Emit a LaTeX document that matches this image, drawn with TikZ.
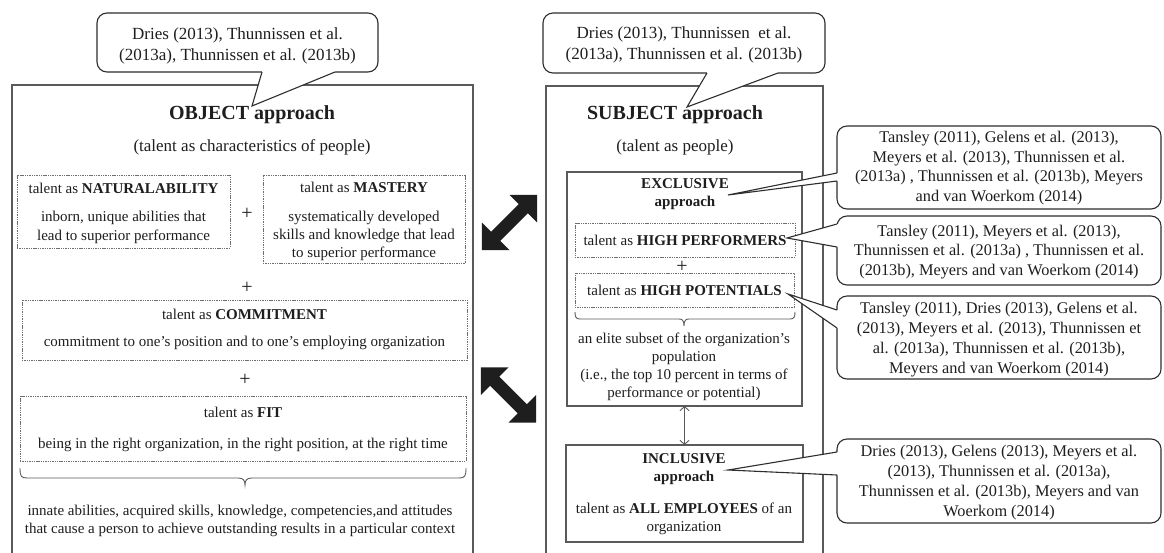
\documentclass[tikz,border=0pt]{standalone}
\usepackage{fontspec}
\setmainfont{Liberation Serif}
\usetikzlibrary{calc,arrows.meta}
\definecolor{ink}{HTML}{1E1E1E}
\definecolor{frame}{HTML}{5A5A5A}
\definecolor{dashc}{HTML}{6E6E6E}
\definecolor{cline}{HTML}{2E2E2E}
\newcommand{\ftitle}{\fontsize{20}{24}\selectfont\bfseries}
\newcommand{\fsub}{\fontsize{17}{20}\selectfont}
\newcommand{\fbx}{\fontsize{15}{18}\selectfont}
\newcommand{\fbxb}{\fontsize{15}{19}\selectfont}
\newcommand{\fcallL}{\fontsize{17}{21}\selectfont}
\newcommand{\fcallR}{\fontsize{16.3}{19.8}\selectfont}
\newcommand{\fplus}{\fontsize{20}{20}\selectfont}
\newcommand{\callptr}[4]{%
  \fill[white] ($(#1)+(#4)$) -- (#1) -- (#2) -- (#3) -- ($(#3)+(#4)$) -- cycle;
  \draw[callline] (#1) -- (#2) -- (#3);}
\begin{document}
\begin{tikzpicture}[x=1pt,y=-1pt,
  every node/.style={inner sep=0pt, outer sep=0pt, text=ink, align=center},
  mainbox/.style={draw=frame, line width=1.1pt},
  sbox/.style={draw=frame, line width=1.1pt},
  dbox/.style={draw=dashc, line width=0.8pt, dash pattern=on 1.4pt off 0.9pt},
  callout/.style={draw=cline, line width=1.1pt, rounded corners=10pt, fill=white},
  callline/.style={draw=cline, line width=1.1pt, line join=miter},
  braceline/.style={draw=frame, line width=0.9pt},
  bigarrow/.style={fill=ink},
]
\useasboundingbox (0,0) rectangle (1164,552);
\fill[white] (0,0) rectangle (1164,552);

% ---------- main boxes
\node[mainbox, minimum width=461, minimum height=480] (leftbox) at (242.5,325) {};
\node[mainbox, minimum width=277, minimum height=479] (rightbox) at (684.5,325.5) {};

% ---------- OBJECT side
\node[font=\ftitle] (objT) at (252,115) {OBJECT approach};
\node[font=\fsub] (objS) at (252,147) {(talent as characteristics of people)};

\node[dbox, minimum width=213, minimum height=73] (natbox) at (123.5,211.5) {};
\node[font=\fbx] (natT) at (123.5,188) {talent as \textbf{NATURALABILITY}};
\node[font=\fbxb] (natB) at (123.5,227.5) {inborn, unique abilities that\\lead to superior performance};
\node[font=\fplus] (p1) at (247,214) {+};

\node[dbox, minimum width=202, minimum height=88] (masbox) at (364,219) {};
\node[font=\fbx] (masT) at (364,187) {talent as \textbf{MASTERY}};
\node[font=\fbx] (masB) at (364,235.5) {systematically developed\\skills and knowledge that lead\\to superior performance};

\node[font=\fplus] (p2) at (247,288) {+};
\node[dbox, minimum width=445, minimum height=60] (combox) at (244.5,330) {};
\node[font=\fbx] (comT) at (244.5,314) {talent as \textbf{COMMITMENT}};
\node[font=\fbx] (comB) at (244.5,343) {commitment to one's position and to one's employing organization};

\node[font=\fplus] (p3) at (245,380) {+};
\node[dbox, minimum width=446, minimum height=65] (fitbox) at (243,428.5) {};
\node[font=\fbx] (fitT) at (243,412) {talent as \textbf{FIT}};
\node[font=\fbx] (fitB) at (243,445) {being in the right organization, in the right position, at the right time};

\draw[braceline] (20,468) .. controls (20,476) and (21,478) .. (27,478) -- (238,478)
  .. controls (243,478) and (245,480) .. (245,485) .. controls (245,480) and (247,478) .. (252,478)
  -- (459,478) .. controls (465,478) and (466,476) .. (466,468);
\node[font=\fbx] (innate) at (240,521) {innate abilities, acquired skills, knowledge, competencies,and attitudes\\that cause a person to achieve outstanding results in a particular context};

% ---------- SUBJECT side
\node[font=\ftitle] (subT) at (675,115) {SUBJECT approach};
\node[font=\fsub] (subS) at (675,147) {(talent as people)};

\node[sbox, minimum width=235, minimum height=234] (exbox) at (684.5,289) {};
\node[font=\fbx\bfseries] (exT) at (685,194) {EXCLUSIVE\\approach};
\node[dbox, minimum width=220, minimum height=34, font=\fbx] (hpbox) at (685,240) {talent as \textbf{HIGH PERFORMERS}};
\node[font=\fplus] (p4) at (682,267) {+};
\node[dbox, minimum width=219, minimum height=34, font=\fbx] (hpotbox) at (684.5,290) {talent as \textbf{HIGH POTENTIALS}};
\draw[braceline] (575,312) .. controls (575,317) and (576,319) .. (580,319) -- (679,319)
  .. controls (682,319) and (684,320) .. (684,326) .. controls (684,320) and (686,319) .. (689,319)
  -- (790,319) .. controls (794,319) and (795,317) .. (795,312);
\node[font=\fbx] (elite) at (684,366.5) {an elite subset of the organization's\\population\\(i.e., the top 10 percent in terms of\\performance or potential)};

\node[sbox, minimum width=237, minimum height=97] (incbox) at (684.5,493.5) {};
\node[font=\fbx\bfseries] (incT) at (684,469) {INCLUSIVE\\approach};
\node[font=\fbx] (incB) at (684,518.5) {talent as \textbf{ALL EMPLOYEES} of an\\organization};
\draw[frame, line width=0.9pt, {Straight Barb[length=4pt,width=9pt]}-{Straight Barb[length=4pt,width=9pt]}] (exbox.south) -- (incbox.north);

% ---------- big double arrows
\begin{scope}[shift={(509.5,222.5)}, rotate=45]
  \fill[bigarrow] (-39,0) -- (-19.5,19.5) -- (-19.5,6.5) -- (19.5,6.5) -- (19.5,19.5) -- (39,0)
    -- (19.5,-19.5) -- (19.5,-6.5) -- (-19.5,-6.5) -- (-19.5,-19.5) -- cycle;
\end{scope}
\begin{scope}[shift={(508.5,395)}, rotate=-45]
  \fill[bigarrow] (-39,0) -- (-19.5,19.5) -- (-19.5,6.5) -- (19.5,6.5) -- (19.5,19.5) -- (39,0)
    -- (19.5,-19.5) -- (19.5,-6.5) -- (-19.5,-6.5) -- (-19.5,-19.5) -- cycle;
\end{scope}

% ---------- callouts
\node[callout, minimum width=281, minimum height=59] (c1) at (237.5,42.5) {};
\node[font=\fcallL] (c1t) at (237.5,45.5) {Dries (2013), Thunnissen et al.\\(2013a), Thunnissen et al. (2013b)};
\coordinate (c1a) at (262,72); \coordinate (c1tip) at (252,106); \coordinate (c1b) at (335,72);
\callptr{c1a}{c1tip}{c1b}{0,-2}

\node[callout, minimum width=282, minimum height=60] (c2) at (684,43) {};
\node[font=\fcallL] (c2t) at (684,45) {Dries (2013), Thunnissen\ \ et al.\\(2013a), Thunnissen et al. (2013b)};
\coordinate (c2a) at (707,73); \coordinate (c2tip) at (687,107); \coordinate (c2b) at (778,73);
\callptr{c2a}{c2tip}{c2b}{0,-2}

\node[callout, minimum width=324, minimum height=83] (cA) at (999,167.5) {};
\node[font=\fcallR] (cAt) at (999,168) {Tansley (2011), Gelens et al. (2013),\\Meyers et al. (2013), Thunnissen et al.\\(2013a) , Thunnissen et al. (2013b), Meyers\\and van Woerkom (2014)};
\coordinate (cAa) at (837,173); \coordinate (cAtip) at (728,195); \coordinate (cAb) at (837,181);
\callptr{cAa}{cAtip}{cAb}{2,0}

\node[callout, minimum width=324, minimum height=69] (cB) at (999,250.5) {};
\node[font=\fcallR] (cBt) at (999,252) {Tansley (2011), Meyers et al. (2013),\\Thunnissen et al. (2013a) , Thunnissen et al.\\(2013b), Meyers and van Woerkom (2014)};
\coordinate (cBa) at (837,224); \coordinate (cBtip) at (787,238); \coordinate (cBb) at (837,247);
\callptr{cBa}{cBtip}{cBb}{2,0}

\node[callout, minimum width=324, minimum height=83] (cC) at (999,337.5) {};
\node[font=\fcallR] (cCt) at (999,339.5) {Tansley (2011), Dries (2013), Gelens et al.\\(2013), Meyers et al. (2013), Thunnissen et\\al. (2013a), Thunnissen et al. (2013b),\\Meyers and van Woerkom (2014)};
\coordinate (cCa) at (837,310); \coordinate (cCtip) at (788,294); \coordinate (cCb) at (837,328);
\callptr{cCa}{cCtip}{cCb}{2,0}

\node[callout, minimum width=324, minimum height=84] (cD) at (999,481) {};
\node[font=\fcallR] (cDt) at (999,482.5) {Dries (2013), Gelens (2013), Meyers et al.\\(2013), Thunnissen et al. (2013a),\\Thunnissen et al. (2013b), Meyers and van\\Woerkom (2014)};
\coordinate (cDa) at (837,452); \coordinate (cDtip) at (728,470); \coordinate (cDb) at (837,475);
\callptr{cDa}{cDtip}{cDb}{2,0}
\end{tikzpicture}
\end{document}
